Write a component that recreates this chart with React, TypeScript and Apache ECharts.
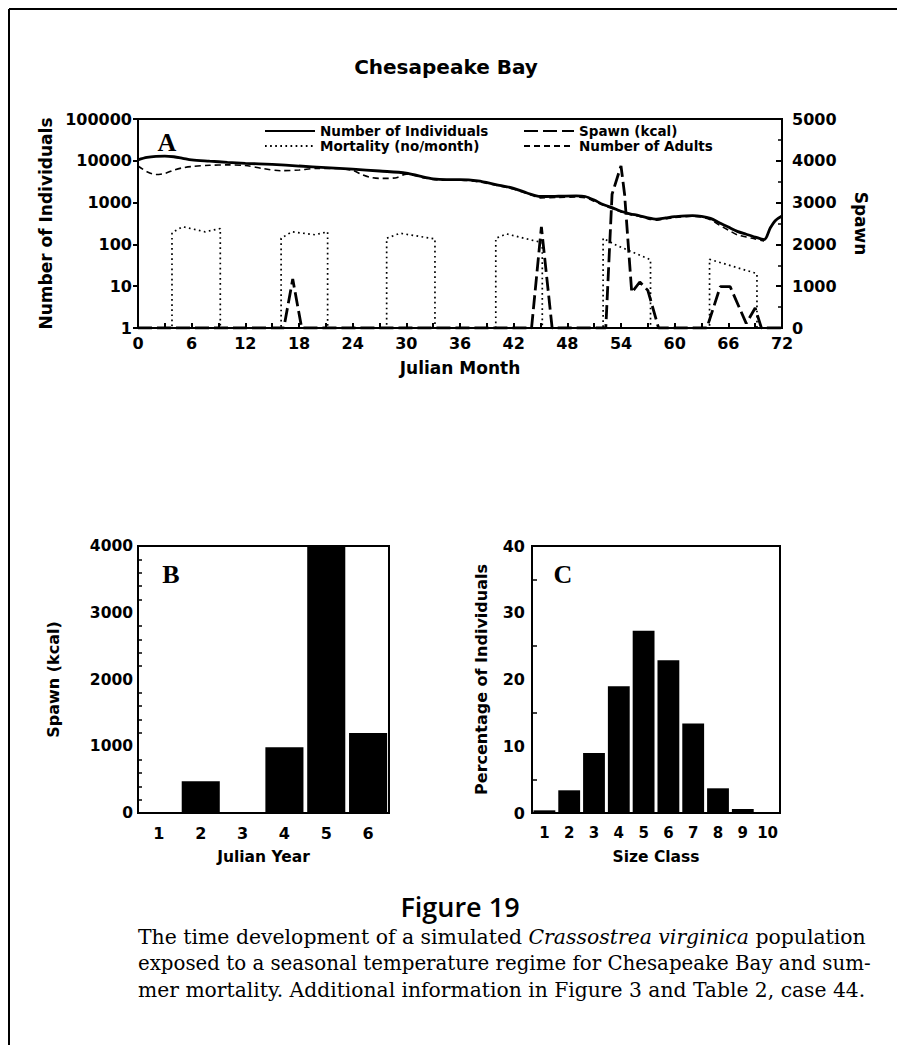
import React, { useEffect, useRef } from "react";
import * as echarts from "echarts";

const W = 897;
const H = 1057;

// ---- Panel A data ----
const indMonths = [0, 1, 2, 3, 4, 5, 6, 8, 10, 12, 15, 18, 21, 24, 27, 30, 31.5, 33, 34.5, 36, 38, 40, 42, 43.5, 45, 47, 49, 50, 51, 52, 53, 54, 55, 56, 57, 58, 59, 60, 62, 63, 64, 65, 66, 67, 68, 69, 70, 70.7, 71.3, 72];
const individuals = [10500, 12000, 12800, 13000, 12500, 11500, 10500, 9800, 9200, 8700, 8200, 7500, 6900, 6300, 5700, 5100, 4300, 3700, 3550, 3550, 3300, 2700, 2200, 1700, 1400, 1420, 1450, 1400, 1150, 900, 760, 620, 540, 490, 430, 400, 430, 460, 490, 470, 420, 330, 260, 205, 175, 150, 130, 250, 380, 480];

const adultMonths = [0, 1, 2, 3, 4, 5, 6, 8, 10, 12, 14, 16, 18, 20, 22, 24, 25, 26, 27, 28, 29, 30, 32, 34, 36, 38, 40, 42, 44, 45, 47, 49, 50, 51, 52, 53, 54, 55, 56, 57, 58, 59, 60, 62, 63, 64, 65, 66, 67, 68, 69, 70];
const adults = [7500, 5500, 4700, 5000, 6000, 6800, 7300, 7800, 8000, 7700, 6500, 5800, 6000, 6600, 6600, 5900, 4700, 4000, 3800, 3800, 4000, 4800, 3900, 3450, 3450, 3150, 2600, 2100, 1500, 1300, 1330, 1360, 1300, 1080, 870, 720, 600, 520, 470, 410, 380, 410, 440, 470, 450, 390, 290, 220, 170, 150, 135, 120];

const mortMonths = [0, 3.8, 3.8, 5, 7.5, 9.2, 9.2, 16, 16, 17.2, 19.8, 21.2, 21.2, 27.8, 27.8, 29.3, 33.2, 33.2, 40, 40, 41.2, 45.2, 45.2, 52, 52, 53.5, 57.3, 57.3, 63.9, 63.9, 69.2, 69.2, 72];
const mortality = [1, 1, 190, 265, 200, 240, 1, 1, 140, 200, 170, 200, 1, 1, 140, 185, 135, 1, 1, 140, 178, 110, 1, 1, 140, 95, 43, 1, 1, 44, 20, 1, 1];

const spawnMonths = [0, 16.3, 17.3, 18.3, 44.0, 45.1, 46.3, 52.3, 53.0, 54.0, 54.4, 55.2, 56.1, 57.0, 58.2, 63.6, 65.1, 66.2, 68.0, 69.0, 69.7, 72];
const spawn = [0, 0, 1170, 0, 0, 2420, 0, 0, 3200, 3880, 3200, 850, 1100, 900, 0, 0, 990, 990, 110, 480, 0, 0];

const leftTicks = ["1", "10", "100", "1000", "10000", "100000"];

// ---- Panel B data ----
const years = ["1", "2", "3", "4", "5", "6"];
const spawnByYear = [0, 475, 0, 985, 3990, 1200];

// ---- Panel C data ----
const sizeClasses = ["1", "2", "3", "4", "5", "6", "7", "8", "9", "10"];
const percentBySize = [0.4, 3.4, 9.0, 19.0, 27.3, 22.9, 13.4, 3.7, 0.6, 0];

const zip = (xs: number[], ys: number[]) => xs.map((x, i) => [x, ys[i]]);

const SANS = "DejaVu Sans";
const SERIF = "DejaVu Serif";
const lbl = (size: number) => ({ color: "#000", fontFamily: SANS, fontWeight: "bold" as const, fontSize: size });
const axLine = { show: true, lineStyle: { color: "#000", width: 2 } };
const plain = (v: number) => String(Math.round(v));

function buildOption() {
  const legendBase = {
    orient: "vertical", top: 124, itemWidth: 50, itemHeight: 10, itemGap: 1, padding: 0,
    selectedMode: false, textStyle: { ...lbl(13.5), lineHeight: 14 },
    itemStyle: { opacity: 0 },
  };
  return {
    animation: false,
    backgroundColor: "#fff",
    grid: [
      { left: 138, top: 119, width: 644, height: 209, show: true, borderColor: "#000", borderWidth: 2, backgroundColor: "transparent" },
      { left: 138, top: 546, width: 251, height: 267, show: true, borderColor: "#000", borderWidth: 2, backgroundColor: "transparent" },
      { left: 532, top: 546, width: 248, height: 267, show: true, borderColor: "#000", borderWidth: 2, backgroundColor: "transparent" },
    ],
    legend: [
      { ...legendBase, data: ["Number of Individuals", "Mortality (no/month)"], left: 264 },
      { ...legendBase, data: ["Spawn (kcal)", "Number of Adults"], left: 523 },
    ],
    xAxis: [
      {
        gridIndex: 0, type: "value", min: 0, max: 72, interval: 6,
        axisLine: axLine, splitLine: { show: false },
        axisTick: { inside: true, length: 5, lineStyle: { color: "#000", width: 2 } },
        minorTick: { show: true, splitNumber: 2, length: 5, lineStyle: { color: "#000", width: 2 } },
        axisLabel: { ...lbl(16), margin: 7, formatter: plain },
        name: "Julian Month", nameLocation: "middle", nameGap: 31, nameTextStyle: lbl(17),
      },
      {
        gridIndex: 1, type: "category", data: years,
        axisLine: axLine, axisTick: { show: false },
        axisLabel: { ...lbl(16), margin: 12, interval: 0 },
        name: "Julian Year", nameLocation: "middle", nameGap: 36, nameTextStyle: lbl(15.5),
      },
      {
        gridIndex: 2, type: "category", data: sizeClasses,
        axisLine: axLine, axisTick: { show: false },
        axisLabel: { ...lbl(15), margin: 12, interval: 0 },
        name: "Size Class", nameLocation: "middle", nameGap: 36, nameTextStyle: lbl(15.5),
      },
    ],
    yAxis: [
      {
        gridIndex: 0, type: "log", logBase: 10, min: 1, max: 100000, position: "left",
        axisLine: axLine, splitLine: { show: false },
        axisTick: { inside: false, length: 5, lineStyle: { color: "#000", width: 2 } },
        axisLabel: {
          ...lbl(16), margin: 6,
          formatter: (v: number) => leftTicks[Math.round(Math.log10(v))] ?? "",
        },
        name: "Number of Individuals", nameLocation: "middle", nameGap: 83, nameTextStyle: lbl(17),
      },
      {
        gridIndex: 0, type: "value", min: 0, max: 5000, interval: 1000, position: "right",
        axisLine: axLine, splitLine: { show: false },
        axisTick: { inside: true, length: 6, lineStyle: { color: "#000", width: 2 } },
        minorTick: { show: true, splitNumber: 2, length: 4, lineStyle: { color: "#000", width: 1.5 } },
        axisLabel: { ...lbl(16), margin: 10, formatter: plain },
        name: "Spawn", nameLocation: "middle", nameRotate: -90, nameGap: 70, nameTextStyle: lbl(17),
      },
      {
        gridIndex: 1, type: "value", min: 0, max: 4000, interval: 1000,
        axisLine: axLine, splitLine: { show: false },
        axisTick: { inside: true, length: 6, lineStyle: { color: "#000", width: 2 } },
        minorTick: { show: true, splitNumber: 5, length: 4, lineStyle: { color: "#000", width: 1.5 } },
        axisLabel: { ...lbl(15.5), margin: 5, formatter: plain },
        name: "Spawn (kcal)", nameLocation: "middle", nameGap: 77, nameTextStyle: lbl(16),
      },
      {
        gridIndex: 2, type: "value", min: 0, max: 40, interval: 10,
        axisLine: axLine, splitLine: { show: false },
        axisTick: { inside: true, length: 6, lineStyle: { color: "#000", width: 2 } },
        minorTick: { show: true, splitNumber: 2, length: 5, lineStyle: { color: "#000", width: 1.5 } },
        axisLabel: { ...lbl(16), margin: 7, formatter: plain },
        name: "Percentage of Individuals", nameLocation: "middle", nameGap: 43, nameTextStyle: lbl(16),
      },
    ],
    series: [
      {
        name: "Number of Individuals", type: "line", xAxisIndex: 0, yAxisIndex: 0,
        data: zip(indMonths, individuals), showSymbol: false, symbol: "none", smooth: 0.3,
        lineStyle: { color: "#000", width: 2.8, type: "solid" }, itemStyle: { color: "#000" }, z: 5,
      },
      {
        name: "Mortality (no/month)", type: "line", xAxisIndex: 0, yAxisIndex: 0,
        data: zip(mortMonths, mortality), showSymbol: false, symbol: "none",
        lineStyle: { color: "#000", width: 1.7, type: [1.7, 3.4] }, itemStyle: { color: "#000" },
      },
      {
        name: "Spawn (kcal)", type: "line", xAxisIndex: 0, yAxisIndex: 1,
        data: zip(spawnMonths, spawn), showSymbol: false, symbol: "none",
        lineStyle: { color: "#000", width: 2.8, type: [14, 5] }, itemStyle: { color: "#000" },
      },
      {
        name: "Number of Adults", type: "line", xAxisIndex: 0, yAxisIndex: 0,
        data: zip(adultMonths, adults), showSymbol: false, symbol: "none", smooth: 0.3,
        lineStyle: { color: "#000", width: 1.6, type: [6, 4] }, itemStyle: { color: "#000" },
      },
      {
        name: "Spawn by year", type: "bar", xAxisIndex: 1, yAxisIndex: 2,
        data: spawnByYear, barCategoryGap: "9%", itemStyle: { color: "#000" },
      },
      {
        name: "Percent by size", type: "bar", xAxisIndex: 2, yAxisIndex: 3,
        data: percentBySize, barCategoryGap: "12%", itemStyle: { color: "#000" },
      },
    ],
    graphic: [
      { type: "line", shape: { x1: 9, y1: 9, x2: 897, y2: 9 }, style: { stroke: "#000", lineWidth: 2 } },
      { type: "line", shape: { x1: 9, y1: 9, x2: 9, y2: 1045 }, style: { stroke: "#000", lineWidth: 2 } },
      {
        type: "text", x: 446, y: 67,
        style: { text: "Chesapeake Bay", fontFamily: SANS, fontWeight: "bold", fontSize: 20, fill: "#000", align: "center", verticalAlign: "middle" },
      },
      {
        type: "text", x: 167, y: 142,
        style: { text: "A", fontFamily: "Liberation Serif", fontWeight: "bold", fontSize: 26, fill: "#000", align: "center", verticalAlign: "middle" },
      },
      {
        type: "text", x: 171, y: 574,
        style: { text: "B", fontFamily: "Liberation Serif", fontWeight: "bold", fontSize: 26, fill: "#000", align: "center", verticalAlign: "middle" },
      },
      {
        type: "text", x: 563, y: 574,
        style: { text: "C", fontFamily: "Liberation Serif", fontWeight: "bold", fontSize: 26, fill: "#000", align: "center", verticalAlign: "middle" },
      },
      {
        type: "text", x: 460, y: 906,
        style: { text: "Figure 19", fontFamily: "Open Sans", fontWeight: 600, fontSize: 27, fill: "#000", align: "center", verticalAlign: "middle" },
      },
      {
        type: "text", x: 138, y: 937,
        style: {
          text: "The time development of a simulated {i|Crassostrea virginica} population",
          fontFamily: SERIF, fontSize: 20.4, fill: "#000", align: "left", verticalAlign: "middle",
          rich: { i: { fontFamily: SERIF, fontSize: 20.4, fontStyle: "italic", fill: "#000" } },
        },
      },
      {
        type: "text", x: 138, y: 963,
        style: { text: "exposed to a seasonal temperature regime for Chesapeake Bay and sum-", fontFamily: SERIF, fontSize: 19.8, fill: "#000", align: "left", verticalAlign: "middle" },
      },
      {
        type: "text", x: 138, y: 990,
        style: { text: "mer mortality. Additional information in Figure 3 and Table 2, case 44.", fontFamily: SERIF, fontSize: 20.3, fill: "#000", align: "left", verticalAlign: "middle" },
      },
    ],
  };
}

export default function App() {
  const ref = useRef<HTMLDivElement>(null);
  useEffect(() => {
    if (!ref.current) return;
    const chart = echarts.init(ref.current, null, { renderer: "svg", width: W, height: H });
    chart.setOption(buildOption() as any);
    return () => chart.dispose();
  }, []);
  return (
    <div
      ref={ref}
      style={{ position: "absolute", left: 0, top: 0, width: W, height: H, background: "#fff" }}
    />
  );
}
